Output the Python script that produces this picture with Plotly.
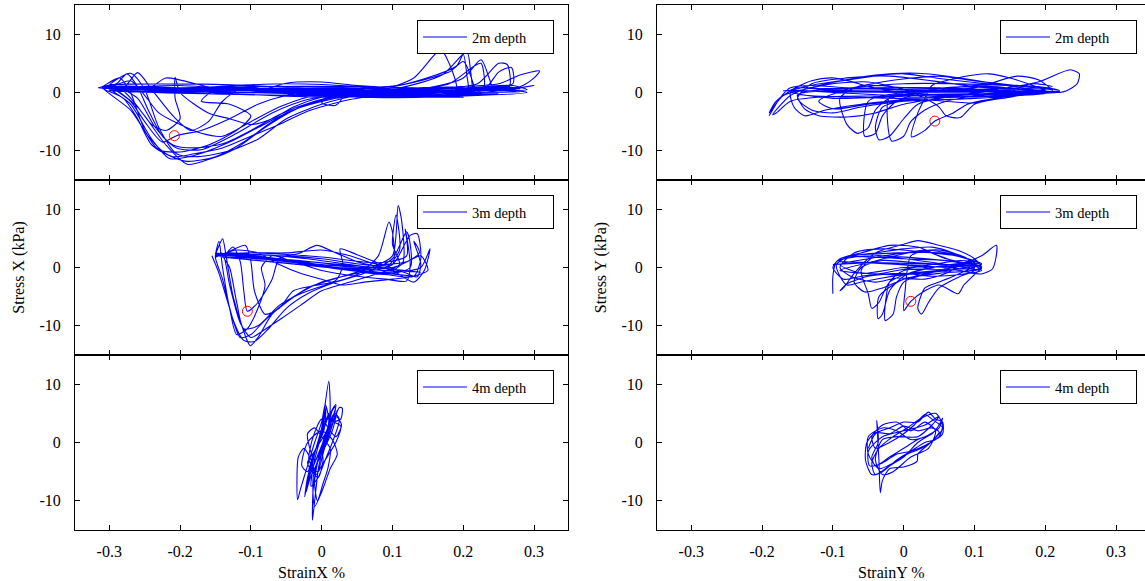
import plotly.graph_objects as go

FONT = "'Liberation Serif', 'Times New Roman', Times, serif"

x_ticks = [-0.3, -0.2, -0.1, 0, 0.1, 0.2, 0.3]
x_tick_labels = ["-0.3", "-0.2", "-0.1", "0", "0.1", "0.2", "0.3"]
y_ticks = [-10, 0, 10]
y_tick_labels = ["-10", "0", "10"]
depth_labels = ["2m depth", "2m depth", "3m depth", "3m depth", "4m depth", "4m depth"]
x_titles = ["StrainX %", "StrainY %"]
y_titles = ["Stress X (kPa)", "Stress Y (kPa)"]

# (strain %, stress kPa)
pts_2m_x = [
    (-0.316, 0.8), (-0.29, 1.5), (-0.275, 3.2), (-0.26, 1.0), (-0.245, -3.0), (-0.225, -7.5), (-0.205, -9.5),
    (-0.17, -9.8), (-0.12, -7.0), (-0.07, -3.5), (-0.02, -1.2), (0.05, 0.0), (0.12, 0.5), (0.2, 0.8), (0.26, 1.0),
    (0.28, 0.6), (0.2, 0.3), (0.1, 0.2), (0.0, 0.3), (-0.1, 0.5), (-0.2, 0.6), (-0.3, 0.8),
    (-0.31, 0.9), (-0.28, 0.2), (-0.25, -4.0), (-0.22, -9.0), (-0.19, -12.3), (-0.16, -11.5), (-0.12, -9.5),
    (-0.08, -6.0), (-0.03, -2.5), (0.03, -0.5), (0.1, 0.5), (0.17, 3.0), (0.205, 7.0), (0.21, 4.0), (0.212, -0.5),
    (0.2, 0.2), (0.1, 0.6), (0.0, 0.7), (-0.1, 0.5), (-0.2, 0.8), (-0.3, 1.0),
    (-0.3, 0.7), (-0.27, -2.0), (-0.24, -8.0), (-0.215, -11.3), (-0.18, -10.8), (-0.13, -8.5), (-0.09, -6.0),
    (-0.04, -3.0), (0.02, -1.0), (0.08, 0.2), (0.13, 2.5), (0.168, 7.3), (0.18, 5.0), (0.19, 0.5), (0.15, 0.0),
    (0.05, -0.2), (-0.05, 0.3), (-0.15, 0.7), (-0.22, 2.5), (-0.24, 1.0), (-0.28, 0.6),
    (-0.3, 1.2), (-0.27, 3.3), (-0.25, 0.5), (-0.23, -6.0), (-0.205, -10.5), (-0.175, -11.0), (-0.13, -10.0),
    (-0.09, -8.0), (-0.05, -4.5), (0.0, -2.0), (0.06, -0.3), (0.15, 0.8), (0.2, 2.5), (0.225, 5.6), (0.235, 3.0),
    (0.24, 0.2), (0.18, 0.0), (0.08, 0.3), (-0.02, 0.5), (-0.12, 0.4), (-0.2, 0.5), (-0.3, 0.9),
    (-0.29, 1.0), (-0.26, -1.0), (-0.235, -6.0), (-0.21, -9.0), (-0.18, -9.5), (-0.14, -8.8), (-0.1, -6.5),
    (-0.06, -3.8), (-0.01, -1.5), (0.05, 0.0), (0.15, 0.6), (0.22, 1.5), (0.25, 5.0), (0.262, 4.8), (0.265, 1.0),
    (0.22, 0.4), (0.12, 0.2), (0.03, 0.1), (0.0, -1.8), (0.02, -2.2), (0.03, -0.5), (-0.1, 0.6), (-0.2, 0.7),
    (-0.29, 0.8),
    (-0.31, 0.9), (-0.27, -3.0), (-0.245, -7.5), (-0.22, -10.5), (-0.19, -11.8), (-0.15, -11.0), (-0.11, -8.5),
    (-0.07, -5.0), (-0.02, -2.0), (0.05, 0.2), (0.15, 0.8), (0.25, 1.5), (0.28, 3.0), (0.308, 3.7), (0.3, 2.5),
    (0.28, 1.0), (0.2, 0.4), (0.1, 0.3), (0.0, 0.4), (-0.1, 0.5), (-0.2, 0.6), (-0.3, 1.0),
    (-0.28, 0.8), (-0.26, 3.4), (-0.24, 0.5), (-0.21, -4.0), (-0.185, -6.5), (-0.16, -5.0), (-0.14, -1.5),
    (-0.11, 1.0), (-0.08, 0.6), (-0.05, 1.6), (0.0, 1.8), (0.05, 1.2), (0.12, 0.8), (0.2, 0.8), (0.27, 1.2),
    (0.29, 0.5), (0.2, 0.2), (0.1, -0.3), (0.0, -0.2), (-0.1, 0.4), (-0.2, 0.5), (-0.3, 0.7),
    (-0.3, 1.0), (-0.27, -1.5), (-0.25, -5.0), (-0.225, -8.5), (-0.205, -7.4), (-0.17, -6.5), (-0.13, -4.5),
    (-0.09, -2.0), (-0.05, -0.5), (0.02, 0.5), (0.1, 1.0), (0.18, 3.5), (0.2, 5.3), (0.21, 3.0), (0.215, 0.0),
    (0.15, -0.3), (0.05, 0.0), (-0.05, 0.5), (-0.15, 0.4), (-0.25, 0.6), (-0.315, 0.8),
    (-0.31, 1.0), (-0.285, 2.5), (-0.27, 0.0), (-0.25, -6.5), (-0.23, -9.8), (-0.2, -10.2), (-0.16, -9.0),
    (-0.12, -6.5), (-0.1, -4.0), (-0.13, -2.0), (-0.17, -1.5), (-0.15, 0.5), (-0.1, 0.8), (-0.05, 0.2),
    (0.05, -0.5), (0.15, -0.2), (0.23, 0.6), (0.25, 3.5), (0.268, 4.3), (0.27, 1.5), (0.2, 0.0), (0.0, 0.2),
    (-0.2, 0.4), (-0.3, 0.6),
    (-0.29, 0.4), (-0.26, -2.5), (-0.24, -5.5), (-0.22, -6.5), (-0.2, -4.5), (-0.207, -1.0), (-0.207, 2.6),
    (-0.2, 0.0), (-0.16, -3.5), (-0.13, -4.5), (-0.1, -5.5), (-0.07, -4.5), (-0.04, -2.5), (0.0, -0.8),
    (0.08, 0.3), (0.16, 0.9), (0.26, 0.5), (0.3, 1.2), (0.2, -0.5), (0.1, -0.8), (0.0, -0.5), (-0.1, 0.3),
    (-0.25, 0.9),
    (-0.31, 0.8), (-0.28, -1.0), (-0.26, -4.5), (-0.24, -9.0), (-0.21, -11.0), (-0.18, -10.5), (-0.14, -9.5),
    (-0.1, -7.5), (-0.06, -5.5), (-0.02, -3.2), (0.04, -1.2), (0.12, 0.2), (0.18, 1.5), (0.215, 4.5),
    (0.225, 5.0), (0.228, 0.5), (0.15, -0.5), (0.05, 1.0), (-0.05, 1.5), (-0.12, 1.2), (-0.22, 0.6), (-0.3, 1.0),
    (-0.3, 0.9), (-0.27, 2.0), (-0.25, -0.5), (-0.23, -3.5), (-0.2, -5.5), (-0.17, -7.0), (-0.14, -7.5),
    (-0.1, -5.0), (-0.06, -2.5), (-0.02, -0.8), (0.05, 0.5), (0.12, 1.5), (0.19, 4.5), (0.2, 6.5), (0.205, 3.0),
    (0.206, 0.0), (0.12, 0.4), (0.03, 0.8), (-0.08, 0.7), (-0.18, 0.3), (-0.3, 0.8),
    (-0.3, 0.5), (0.0, 0.1), (0.27, 0.4), (0.0, -0.3), (-0.31, 0.9), (0.0, 0.6), (0.25, -0.2), (0.1, -0.6),
    (-0.1, 0.0), (-0.3, 0.4), (-0.1, 1.0), (0.1, 0.9), (0.28, 0.1), (0.1, 0.0), (-0.2, 0.2), (-0.31, 1.0),
    (0.2, -0.8), (-0.05, -0.5), (-0.3, 0.3), (-0.1, 0.7), (0.15, 0.1), (0.27, 0.9), (0.05, 0.4), (-0.25, 0.8),
    (0.0, -0.8), (0.22, 0.6), (-0.31, 0.9),
    (-0.3, 1.3), (-0.15, 1.4), (-0.05, 0.9), (0.1, 0.4), (0.25, 0.7), (0.29, 0.0), (0.1, -0.9), (-0.05, -0.2),
    (-0.2, 1.2), (-0.31, 0.7),
]

pts_2m_y = [
    (-0.19, -4.0), (-0.175, -1.0), (-0.16, 0.8), (-0.13, 1.2), (-0.08, 0.8), (0.0, 0.5), (0.1, 0.3), (0.18, 0.2),
    (0.22, 0.0), (0.15, -0.4), (0.05, -0.8), (-0.05, -0.6), (-0.12, -0.8), (-0.16, -1.5), (-0.18, -3.5),
    (-0.185, -3.8), (-0.16, -0.5), (-0.12, 1.2), (-0.06, 2.5), (0.0, 3.2), (0.05, 2.4), (0.12, 1.5), (0.19, 1.0),
    (0.22, 0.3), (0.16, -0.2), (0.08, -0.5), (0.02, -1.0), (-0.03, -2.5), (-0.04, -6.0), (-0.035, -8.1),
    (-0.02, -7.5), (0.0, -4.5), (0.02, -2.0), (0.08, -0.5), (0.15, 0.0), (0.2, 0.2),
    (0.22, 0.2), (0.15, 0.3), (0.05, 0.4), (-0.05, 0.6), (-0.12, 0.5), (-0.15, -0.5), (-0.14, -2.8),
    (-0.12, -4.0), (-0.08, -4.2), (-0.04, -3.5), (0.0, -2.0), (0.06, -0.8), (0.13, 0.5), (0.19, 1.8),
    (0.235, 3.9), (0.248, 3.2), (0.245, 1.5), (0.23, 0.3), (0.22, 0.0),
    (0.2, 0.1), (0.12, -0.2), (0.04, -0.3), (-0.02, -0.8), (-0.017, -8.3), (0.0, -7.5), (0.01, -5.0),
    (0.03, -3.0), (0.06, -1.5), (0.1, -0.6), (0.16, 0.2), (0.2, 0.5),
    (0.19, 0.4), (0.13, 1.5), (0.08, 2.5), (0.02, 3.3), (-0.04, 3.0), (-0.09, 2.0), (-0.14, 1.0), (-0.16, 0.0),
    (-0.155, -2.5), (-0.14, -4.0), (-0.11, -3.0), (-0.06, -2.0), (0.0, -1.2), (0.05, -0.6), (0.1, -0.3),
    (0.18, 0.0),
    (0.2, 0.3), (0.15, 2.5), (0.12, 3.2), (0.08, 2.6), (0.04, 1.2), (0.03, -1.0), (0.02, -3.5), (0.011, -7.6),
    (0.03, -6.5), (0.044, -4.9), (0.07, -3.5), (0.09, -2.0), (0.12, -1.2), (0.16, -0.5), (0.21, 0.1),
    (0.2, 0.0), (0.1, 0.5), (0.0, 0.8), (-0.06, 1.2), (-0.09, -1.0), (-0.08, -5.5), (-0.065, -7.0),
    (-0.05, -6.0), (-0.04, -3.0), (-0.02, -1.0), (0.05, 0.2), (0.12, 0.6), (0.19, 0.4),
    (0.21, 0.0), (0.1, -1.0), (0.0, -1.5), (-0.06, -2.5), (-0.1, -3.5), (-0.13, -3.0), (-0.15, -1.0),
    (-0.13, 1.5), (-0.08, 2.5), (-0.02, 2.8), (0.04, 2.0), (0.1, 1.0), (0.17, 0.5), (0.22, 0.1),
    (0.2, 0.2), (0.15, -0.8), (0.1, -2.0), (0.08, -4.3), (0.06, -4.0), (0.05, -2.5), (0.03, -1.0), (0.0, 0.5),
    (-0.05, 1.8), (-0.1, 1.5), (-0.14, 0.5), (-0.17, -0.5), (-0.19, -3.5), (-0.18, -1.5), (-0.15, 0.8),
    (-0.1, 0.4), (0.0, 0.2), (0.1, 0.8), (0.16, 2.8), (0.19, 2.2), (0.21, 0.3),
    (0.2, 0.0), (0.1, 0.2), (0.0, 0.0), (-0.05, -1.5), (-0.055, -7.5), (-0.04, -7.0), (-0.03, -4.0),
    (-0.01, -1.5), (0.04, 0.5), (0.1, 1.0), (0.2, 0.3),
    (-0.17, 0.3), (0.0, 0.0), (0.21, 0.2), (0.0, -0.5), (-0.16, 0.5), (0.05, 0.8), (0.2, -0.2), (0.0, -1.0),
    (-0.15, -0.3), (0.0, 1.5), (0.15, 1.2), (0.21, 0.5),
    (0.1, 2.0), (0.05, 2.8), (-0.02, 2.0), (-0.08, 0.5), (-0.12, -1.5), (-0.1, -2.8), (-0.05, -2.0),
    (0.02, -1.2), (0.1, -1.8), (0.13, -1.0), (0.18, 1.5), (0.21, 1.0),
    (0.15, 0.5), (0.05, -0.5), (-0.03, 0.5), (-0.1, 2.5), (-0.13, 2.0), (-0.16, 0.2), (-0.1, -1.0),
    (0.0, -0.5), (0.1, 1.2), (0.2, 0.0),
]

pts_3m_x = [
    (-0.155, 2.0), (-0.145, -1.0), (-0.13, -7.0), (-0.115, -12.0), (-0.1, -11.5), (-0.08, -9.0), (-0.05, -6.0),
    (-0.02, -3.5), (0.03, -1.5), (0.07, 0.0), (0.1, 2.0), (0.108, 10.6), (0.113, 8.0), (0.115, 1.0),
    (0.1, -0.5), (0.05, 0.0), (0.0, 0.8), (-0.06, 1.5), (-0.12, 2.2), (-0.15, 2.4),
    (-0.15, 2.3), (-0.14, 4.9), (-0.135, 2.0), (-0.125, -5.0), (-0.11, -11.0), (-0.101, -13.4), (-0.09, -12.0),
    (-0.07, -8.0), (-0.04, -5.0), (0.0, -2.5), (0.05, -1.0), (0.1, 0.5), (0.125, 5.5), (0.135, 5.8),
    (0.14, 1.5), (0.13, -1.5), (0.08, -1.0), (0.02, -0.2), (-0.05, 1.2), (-0.12, 2.0),
    (-0.14, 2.2), (-0.13, 0.0), (-0.12, -6.0), (-0.11, -10.5), (-0.09, -10.0), (-0.06, -6.5), (-0.03, -4.5),
    (0.01, -2.8), (0.05, -1.2), (0.08, 2.0), (0.095, 7.8), (0.1, 6.0), (0.1, 0.5), (0.06, 0.5), (0.0, 1.5),
    (-0.05, 2.0), (-0.1, 2.2), (-0.13, 2.5),
    (-0.135, 2.3), (-0.125, 3.5), (-0.115, 1.0), (-0.11, -4.0), (-0.105, -7.5), (-0.09, -6.0), (-0.07, -2.0),
    (-0.06, 1.5), (-0.03, 2.5), (-0.007, 3.8), (0.02, 2.5), (0.05, 1.0), (0.1, -0.5), (0.13, -2.5),
    (0.145, -0.5), (0.153, 3.2), (0.14, 0.0), (0.1, -0.8), (0.05, -0.6), (0.0, 0.3), (-0.07, 1.5), (-0.14, 2.1),
    (-0.15, 2.0), (-0.14, -2.0), (-0.125, -9.0), (-0.11, -12.5), (-0.095, -12.7), (-0.075, -10.5),
    (-0.05, -7.0), (-0.02, -4.5), (0.02, -2.5), (0.06, -1.0), (0.1, 1.5), (0.12, 6.1), (0.125, 4.0),
    (0.125, 0.0), (0.09, -1.2), (0.04, -0.5), (-0.02, 0.8), (-0.08, 1.8), (-0.14, 2.3),
    (-0.14, 2.2), (-0.108, 3.8), (-0.1, 1.0), (-0.095, -4.0), (-0.08, -8.0), (-0.06, -7.0), (-0.04, -4.0),
    (-0.01, -3.1), (0.02, -2.2), (0.03, 0.5), (0.026, 3.2), (0.05, 2.2), (0.09, 0.3), (0.12, -1.0),
    (0.135, -1.6), (0.14, 0.5), (0.13, 4.5), (0.138, 2.5), (0.1, 0.0), (0.0, 0.5), (-0.1, 1.8), (-0.15, 2.1),
    (-0.15, 2.0), (-0.12, 3.0), (-0.09, 2.5), (-0.06, 0.5), (-0.03, -1.0), (0.0, -2.0), (0.03, -3.0),
    (0.06, -2.5), (0.1, -2.0), (0.13, -1.5), (0.15, -0.5), (0.14, 2.0), (0.12, 1.0), (0.08, 0.5), (0.04, 2.0),
    (0.0, 3.0), (-0.05, 2.5), (-0.1, 2.5), (-0.145, 2.0),
    (-0.15, 1.8), (-0.145, 4.5), (-0.14, 0.0), (-0.13, -7.0), (-0.12, -11.5), (-0.105, -10.5), (-0.09, -7.0),
    (-0.08, -3.0), (-0.085, 0.0), (-0.07, 2.0), (-0.04, 1.0), (0.0, -0.5), (0.05, -1.5), (0.09, -2.0),
    (0.12, -2.3), (0.125, 0.5), (0.118, 6.6), (0.12, 2.0), (0.08, 0.8), (0.0, 1.8), (-0.1, 2.5), (-0.15, 2.2),
    (-0.14, 2.4), (-0.13, -3.0), (-0.115, -9.5), (-0.1, -12.0), (-0.085, -11.0), (-0.06, -9.0), (-0.03, -6.5),
    (0.0, -4.0), (0.04, -2.5), (0.08, -1.0), (0.11, 0.5), (0.1, 4.0), (0.105, 9.0), (0.11, 3.0), (0.09, 0.0),
    (0.04, 0.5), (-0.02, 1.5), (-0.09, 2.2), (-0.15, 2.0),
    (0.0, 0.8), (0.14, -0.8), (0.0, 0.2), (-0.14, 1.8), (0.05, -0.5), (0.13, -1.5), (-0.05, 1.0), (-0.15, 2.3),
]

pts_3m_y = [
    (-0.1, -4.5), (-0.1, -1.5), (-0.095, 1.0), (-0.07, 1.8), (-0.03, 2.0), (0.02, 1.6), (0.07, 1.0), (0.1, 0.3),
    (0.11, -0.5), (0.08, -1.2), (0.04, -1.5), (0.0, -1.0), (-0.05, -1.5), (-0.08, -2.8), (-0.09, -4.0),
    (-0.085, -3.5), (-0.07, -1.0), (-0.04, 2.5), (0.0, 4.0), (0.02, 4.6), (0.05, 3.8), (0.08, 2.8), (0.1, 1.5),
    (0.11, 0.0), (0.09, -0.6), (0.05, -1.0), (0.0, -2.0), (-0.035, -5.0), (-0.036, -8.8), (-0.03, -8.0),
    (-0.02, -4.0), (0.0, -1.5), (0.04, 0.0), (0.09, 0.8), (0.11, 0.5),
    (0.1, 0.2), (0.06, 0.5), (0.02, 0.8), (-0.03, 1.2), (-0.06, 0.0), (-0.07, -2.5), (-0.055, -4.2),
    (-0.03, -3.5), (0.0, -2.0), (0.04, -0.8), (0.08, 0.5), (0.11, 2.0), (0.131, 3.8), (0.13, 1.5),
    (0.125, -0.3), (0.11, -1.1), (0.09, -0.8),
    (0.08, -0.5), (0.04, -0.3), (0.0, -0.5), (-0.02, -2.5), (-0.026, -9.1), (-0.015, -8.0), (-0.01, -5.0),
    (0.0, -2.5), (0.03, -1.2), (0.07, 0.0), (0.1, 0.5),
    (0.1, 0.8), (0.07, 2.5), (0.04, 3.5), (0.0, 3.2), (-0.04, 2.5), (-0.08, 1.8), (-0.095, 0.5), (-0.09, -1.5),
    (-0.08, -3.0), (-0.06, -2.5), (-0.03, -1.8), (0.01, -1.0), (0.05, -0.5), (0.1, 0.0),
    (0.1, 0.3), (0.06, 1.5), (0.03, 2.8), (0.01, 2.0), (0.005, -0.5), (0.002, -4.0), (0.0, -7.4), (0.01, -5.8),
    (0.03, -4.0), (0.05, -3.0), (0.077, -4.5), (0.085, -3.0), (0.1, -1.2), (0.11, 0.0),
    (0.1, 0.5), (0.06, 1.2), (0.0, 1.5), (-0.04, 2.0), (-0.06, -0.5), (-0.05, -4.5), (-0.045, -7.0),
    (-0.035, -6.0), (-0.02, -2.5), (0.02, -0.5), (0.07, 0.5), (0.1, 0.4),
    (0.1, 0.0), (0.05, 2.0), (0.02, 3.5), (-0.02, 3.8), (-0.06, 2.5), (-0.09, 1.5), (-0.1, 0.0), (-0.085, -2.0),
    (-0.06, -1.5), (-0.03, -1.0), (0.0, -0.3), (0.04, 0.5), (0.08, 1.2), (0.105, 0.8),
    (0.1, 0.2), (0.07, -1.5), (0.05, -2.5), (0.03, -3.5), (0.02, -7.0), (0.025, -8.0), (0.035, -6.0),
    (0.05, -3.5), (0.08, -1.5), (0.1, -0.5), (0.09, 1.5), (0.05, 3.0), (0.0, 2.5), (-0.05, 1.5), (-0.09, 0.5),
    (-0.06, -1.0), (0.0, 0.0), (0.1, 0.3),
    (-0.09, 1.0), (0.0, 0.5), (0.1, -0.3), (0.0, 1.5), (-0.08, 2.0), (0.05, 2.5), (0.11, 0.6), (0.0, -1.2),
    (-0.09, -0.5),
    (-0.05, 0.8), (0.03, 3.0), (0.08, 2.0), (-0.03, 3.2), (-0.07, 2.5), (-0.09, 0.0), (-0.075, -1.5),
    (-0.04, -2.5), (-0.01, -1.8), (0.03, -2.0), (0.06, -1.0), (0.09, 1.0), (0.11, -0.2), (0.07, -0.8),
    (0.02, 0.2), (-0.05, 0.8), (-0.1, 0.5),
]

pts_4m_x = [
    (-0.005, 0.0), (0.005, 3.0), (0.01, 5.0), (0.0, 2.0), (-0.01, -2.0), (-0.015, -5.0), (-0.005, -2.0),
    (0.008, 2.0), (0.015, 5.5), (0.02, 6.2), (0.012, 3.0), (0.0, -1.0), (-0.012, -4.0), (-0.02, -7.0),
    (-0.024, -9.3), (-0.02, -6.0), (-0.008, -1.0), (0.0, 2.5), (0.01, 10.5), (0.012, 6.0), (0.008, 1.0),
    (-0.005, -3.0), (-0.012, -8.0), (-0.013, -13.3), (-0.009, -9.0), (-0.004, -4.0), (0.005, 0.0),
    (0.015, 3.0), (0.025, 6.0), (0.029, 5.9), (0.027, 4.0), (0.018, 3.5), (0.027, 2.8), (0.02, 0.0),
    (0.01, -2.0), (0.0, -4.0), (-0.008, -5.5), (-0.015, -3.0), (-0.025, -1.0), (-0.033, -2.5),
    (-0.034, -9.8), (-0.03, -8.0), (-0.02, -4.0), (-0.01, 0.0), (0.0, 3.5), (0.005, 6.5), (0.01, 4.0),
    (0.005, 0.0), (-0.01, -3.0), (-0.02, 1.5), (-0.01, 2.5), (0.0, 1.0), (0.012, -1.0), (0.009, -4.3),
    (0.002, -7.0), (-0.006, -10.0), (-0.01, -7.0), (-0.005, -3.0), (0.005, 1.0), (0.018, 4.0), (0.022, 5.5),
    (0.015, 2.0), (0.0, -2.0), (-0.016, -6.0), (-0.022, -8.5), (-0.015, -4.0), (-0.005, 0.0), (0.008, 4.0),
    (0.02, 6.5), (0.015, 3.0), (0.004, -1.0), (-0.006, -5.0), (-0.018, -3.0), (-0.012, 1.0), (0.0, 4.0),
    (0.012, 2.0), (0.02, 1.0), (0.028, 3.0), (0.02, 4.5), (0.005, 1.5), (-0.01, -1.5), (-0.02, -3.5),
    (-0.005, -6.0), (0.002, -3.0),
    (0.0, -1.0), (0.01, 3.0), (0.018, 5.0), (0.025, 4.0), (0.015, 0.0), (0.005, -3.0), (-0.005, -6.0),
    (-0.015, -7.5), (-0.01, -3.0), (0.0, 1.5), (0.006, 6.0), (0.003, 2.0), (-0.012, -2.0), (-0.02, -5.0),
    (-0.028, -4.0), (-0.02, 0.0), (0.0, 2.0), (0.015, 0.5), (0.022, -2.0), (0.012, -4.5), (0.0, -8.5),
    (-0.01, -11.0), (-0.012, -6.0), (0.0, -1.0),
]

pts_4m_y = [
    (-0.05, -1.0), (-0.04, 1.5), (-0.02, 2.5), (0.0, 3.5), (0.02, 3.5), (0.035, 5.2), (0.045, 4.0),
    (0.055, 3.5), (0.055, 1.5), (0.045, 0.5), (0.03, 0.0), (0.01, -1.5), (-0.01, -3.0), (-0.03, -5.0),
    (-0.045, -5.5), (-0.054, -3.0), (-0.052, 0.0), (-0.04, 1.7), (-0.02, 1.5), (0.0, 2.8), (0.02, 2.0),
    (0.04, 2.5), (0.05, 1.8), (0.04, 0.2), (0.02, -2.0), (0.019, -3.2), (0.0, -4.2), (-0.02, -4.5),
    (-0.03, -6.5), (-0.033, -8.6), (-0.035, -3.0), (-0.038, 3.7), (-0.036, 0.0), (-0.045, -2.5),
    (-0.04, -4.0), (-0.02, -2.5), (0.0, -1.0), (0.02, 0.5), (0.04, 1.5), (0.05, 3.0), (0.055, 4.2),
    (0.05, 2.5), (0.03, 1.0), (0.01, 0.5), (-0.01, 2.0), (-0.03, 2.5), (-0.05, 1.0), (-0.05, -2.0),
    (-0.035, -4.5), (-0.015, -3.5), (0.005, -2.0), (0.025, -1.0), (0.045, 0.8), (0.055, 2.5), (0.04, 4.0),
    (0.03, 4.8), (0.015, 3.0), (0.0, 1.5), (-0.02, 0.0), (-0.04, -1.0), (-0.045, 1.0), (-0.03, 3.0),
    (-0.01, 3.5), (0.01, 2.0), (0.03, 3.5), (0.045, 2.0), (0.035, -1.0), (0.01, -2.5), (-0.015, -5.0),
    (-0.03, -5.5), (-0.04, -3.0), (-0.03, 0.5), (-0.01, 1.0), (0.02, 1.0), (0.04, 3.0),
    (0.05, 4.5), (0.03, 3.0), (0.0, 2.0), (-0.03, 1.0), (-0.05, -1.5), (-0.048, -4.0), (-0.03, -3.5),
    (-0.01, -2.0), (0.01, -1.5), (0.03, -0.5), (0.05, 1.0), (0.055, 3.0), (0.045, 5.0), (0.025, 4.2),
    (0.005, 2.5), (-0.015, 1.0), (-0.035, -1.0), (-0.045, -3.5), (-0.04, -5.5), (-0.02, -4.0), (0.0, -2.5),
    (0.02, 0.0), (0.04, 1.5),
]

# red circle markers (strain, stress); None where absent
red_marks = [(-0.208, -7.4), (0.044, -4.9), (-0.105, -7.5), (0.010, -5.8), None, None]

panels = [pts_2m_x, pts_2m_y, pts_3m_x, pts_3m_y, pts_4m_x, pts_4m_y]

# ---------------- layout geometry ----------------
W, H = 1145, 581
col_dom = [[75 / W, 568 / W], [657 / W, 1.0]]
x_rng = [[-0.3484, 0.3479], [-0.3484, 0.3408]]
row_px = [(5, 180), (180, 355), (355, 530)]
row_dom = [[1 - b / H, 1 - t / H] for (t, b) in row_px]
leg_right_px = [554, 1137]
x_title_center_px = [311, 891]

fig = go.Figure()
layout = dict(
    width=W, height=H,
    margin=dict(l=0, r=0, t=0, b=0),
    paper_bgcolor="white", plot_bgcolor="white",
    font=dict(family=FONT, size=16, color="black"),
    annotations=[
        dict(text=x_titles[c], x=x_title_center_px[c] / W, y=1 - 572 / H, xref="paper", yref="paper",
             xanchor="center", yanchor="middle", showarrow=False,
             font=dict(family=FONT, size=16, color="black"))
        for c in range(2)
    ],
)

for i, pts in enumerate(panels):
    row, col = divmod(i, 2)
    n = i + 1
    xs = [p[0] for p in pts]
    ys = [p[1] for p in pts]
    leg_key = "legend" if n == 1 else f"legend{n}"
    xa = "x" if n == 1 else f"x{n}"
    ya = "y" if n == 1 else f"y{n}"
    fig.add_trace(go.Scatter(
        x=xs, y=ys, mode="lines", name=depth_labels[i],
        line=dict(color="#0000ff", width=1.1, shape="spline", smoothing=0.7),
        xaxis=xa, yaxis=ya, legend=leg_key, showlegend=True,
    ))
    if red_marks[i] is not None:
        fig.add_trace(go.Scatter(
            x=[red_marks[i][0]], y=[red_marks[i][1]], mode="markers",
            marker=dict(symbol="circle-open", size=10, color="red", line=dict(width=1)),
            xaxis=xa, yaxis=ya, showlegend=False, legend=leg_key,
        ))

    xkey = "xaxis" if n == 1 else f"xaxis{n}"
    ykey = "yaxis" if n == 1 else f"yaxis{n}"
    layout[xkey] = dict(
        domain=col_dom[col], anchor=ya, range=x_rng[col],
        tickvals=x_ticks, ticktext=x_tick_labels, showticklabels=(row == 2),
        ticks="inside", ticklen=5, tickcolor="black",
        showline=True, linecolor="black", linewidth=1, mirror="ticks",
        showgrid=False, zeroline=False, ticklabelstandoff=7,
        tickfont=dict(family=FONT, size=16),
    )
    layout[ykey] = dict(
        domain=row_dom[row], anchor=xa, range=[-15, 15],
        tickvals=y_ticks, ticktext=y_tick_labels,
        ticks="inside", ticklen=5, tickcolor="black",
        showline=True, linecolor="black", linewidth=1, mirror=("ticks" if col == 0 else False),
        showgrid=False, zeroline=False, ticklabelstandoff=10,
        tickfont=dict(family=FONT, size=16),
        title=dict(text=y_titles[col], font=dict(family=FONT, size=16), standoff=10) if row == 1 else None,
    )
    layout[leg_key] = dict(
        x=leg_right_px[col] / W, y=1 - (row_px[row][0] + 15) / H,
        xanchor="right", yanchor="top",
        bgcolor="white", bordercolor="black", borderwidth=1,
        font=dict(family=FONT, size=14.5, color="black"),
        orientation="h", entrywidth=76, itemwidth=44,
    )

fig.update_layout(**layout)
fig.write_html("out.html")
